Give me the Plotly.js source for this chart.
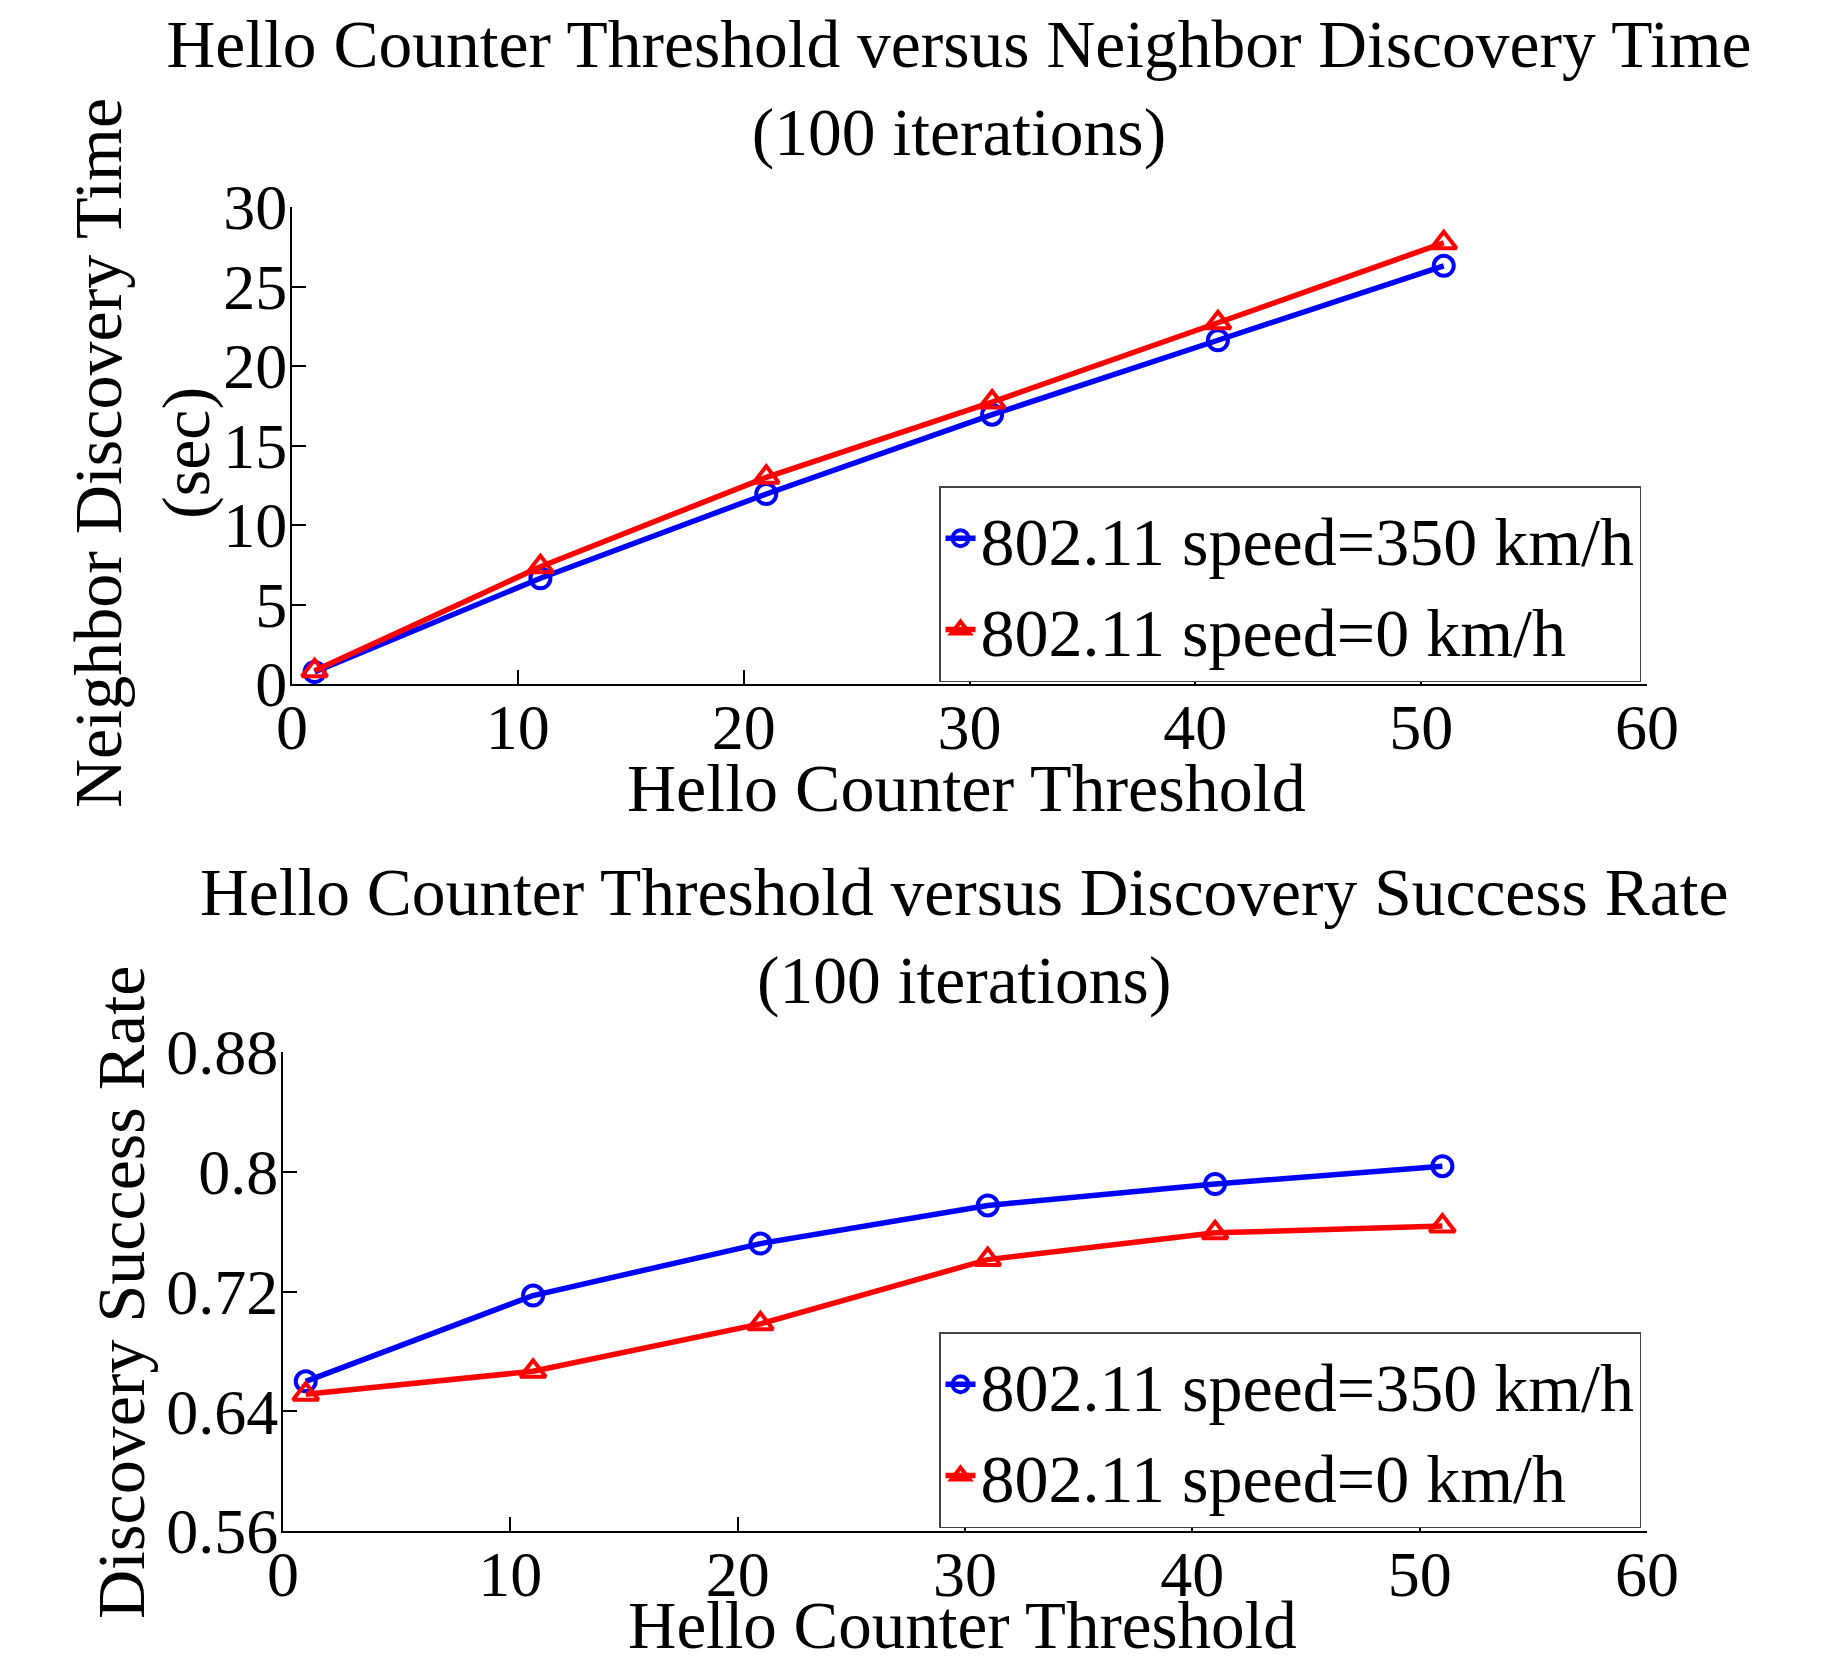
<!DOCTYPE html>
<html>
<head>
<meta charset="utf-8">
<script src="https://cdn.plot.ly/plotly-3.0.1.min.js"></script>
<style>html,body{margin:0;padding:0;background:#fff;}#chart{width:1847px;height:1663px;}</style>
</head>
<body>
<div id="chart"></div>
<script>
// Data
const helloThreshold = [1, 11, 21, 31, 41, 51];
const timeSpeed350 = [0.75, 6.65, 11.95, 16.94, 21.62, 26.3];
const timeSpeed0 = [0.83, 7.38, 13.0, 17.73, 22.72, 27.75];
const successSpeed350 = [0.660, 0.7173, 0.752, 0.7775, 0.7918, 0.8037];
const successSpeed0 = [0.6513, 0.6667, 0.6984, 0.7413, 0.7592, 0.7637];
const seriesNames = ["802.11 speed=350 km/h", "802.11 speed=0 km/h"];
const successTickVals = [0.56, 0.64, 0.72, 0.8, 0.88];
const successTickText = ["0.56", "0.64", "0.72", "0.8", "0.88"];
const titleTop = "Hello Counter Threshold versus Neighbor Discovery Time<br>(100 iterations)";
const titleBottom = "Hello Counter Threshold versus Discovery Success Rate<br>(100 iterations)";
const xTitle = "Hello Counter Threshold";
const yTitleTop = "Neighbor Discovery Time<br>(sec)";
const yTitleBottom = "Discovery Success Rate";

const FONT = "Liberation Serif, Times New Roman, serif";
const W = 1847, H = 1663;
const BLUE = "#0000FF", RED = "#FF0000";

function line(x, y, name, color, symbol, xa, ya, leg, msize) {
  return {
    type: "scatter", mode: "lines+markers", x: x, y: y, name: name,
    xaxis: xa, yaxis: ya, legend: leg,
    line: {color: color, width: 5.5},
    marker: {symbol: symbol, size: msize, color: color, line: {color: color, width: 4}}
  };
}

const data = [
  line(helloThreshold, timeSpeed350, seriesNames[0], BLUE, "circle-open", "x", "y", "legend", 20),
  line(helloThreshold, timeSpeed0, seriesNames[1], RED, "triangle-up-open", "x", "y", "legend", 22),
  line(helloThreshold, successSpeed350, seriesNames[0], BLUE, "circle-open", "x2", "y2", "legend2", 20),
  line(helloThreshold, successSpeed0, seriesNames[1], RED, "triangle-up-open", "x2", "y2", "legend2", 22)
];

const axisCommon = {
  showline: true, linecolor: "#000", linewidth: 2,
  ticks: "inside", ticklen: 14, tickwidth: 2, tickcolor: "#000",
  showgrid: false, zeroline: false, automargin: false,
  tickfont: {family: FONT, size: 64, color: "#000"}
};
const xAxisCommon = Object.assign({}, axisCommon, {ticklabelstandoff: -14});
const yAxisCommon = Object.assign({}, axisCommon, {ticklabelstandoff: -10});

const legendCommon = {
  xanchor: "right", yanchor: "top",
  bgcolor: "#fff", bordercolor: "#444", borderwidth: 1.5,
  font: {family: FONT, size: 68, color: "#000"},
  tracegroupgap: 0, itemwidth: 30
};

function ann(text, xpx, ypx, angle, size) {
  return {
    text: text, xref: "paper", yref: "paper", x: xpx / W, y: 1 - ypx / H,
    xanchor: "center", yanchor: "middle", showarrow: false, textangle: angle || 0,
    font: {family: FONT, size: size || 68, color: "#000"}
  };
}

const layout = {
  width: W, height: H,
  paper_bgcolor: "#fff", plot_bgcolor: "#fff",
  margin: {l: 0, r: 0, t: 0, b: 0, pad: 0},
  font: {family: FONT, color: "#000"},
  showlegend: true,
  title: {
    text: titleTop,
    font: {family: FONT, size: 67.5, color: "#000"},
    x: 959 / W, xanchor: "center", y: 1 - 67 / H, yanchor: "middle", yref: "container"
  },
  xaxis: Object.assign({}, xAxisCommon, {
    domain: [292 / W, 1647 / W], anchor: "y",
    range: [0, 60], dtick: 10, tick0: 0
  }),
  yaxis: Object.assign({}, yAxisCommon, {
    domain: [1 - 684 / H, 1 - 207 / H], anchor: "x",
    range: [0, 30], dtick: 5, tick0: 0
  }),
  xaxis2: Object.assign({}, xAxisCommon, {
    domain: [283 / W, 1647 / W], anchor: "y2",
    range: [0, 60], dtick: 10, tick0: 0
  }),
  yaxis2: Object.assign({}, yAxisCommon, {
    domain: [1 - 1531 / H, 1 - 1052 / H], anchor: "x2",
    range: [0.56, 0.88], tickmode: "array", tickvals: successTickVals, ticktext: successTickText
  }),
  legend: Object.assign({}, legendCommon, {x: 1641 / W, y: 1 - 486 / H}),
  legend2: Object.assign({}, legendCommon, {x: 1641 / W, y: 1 - 1332 / H}),
  annotations: [
    ann(titleBottom, 964, 936, 0, 67.5),
    ann(xTitle, 966, 788, 0, 68),
    ann(xTitle, 963, 1625, 0, 67),
    ann(yTitleTop, 142, 453, -90, 68),
    ann(yTitleBottom, 121, 1293, -90, 68)
  ]
};

Plotly.newPlot("chart", data, layout, {displayModeBar: false, staticPlot: true});
</script>
</body>
</html>
